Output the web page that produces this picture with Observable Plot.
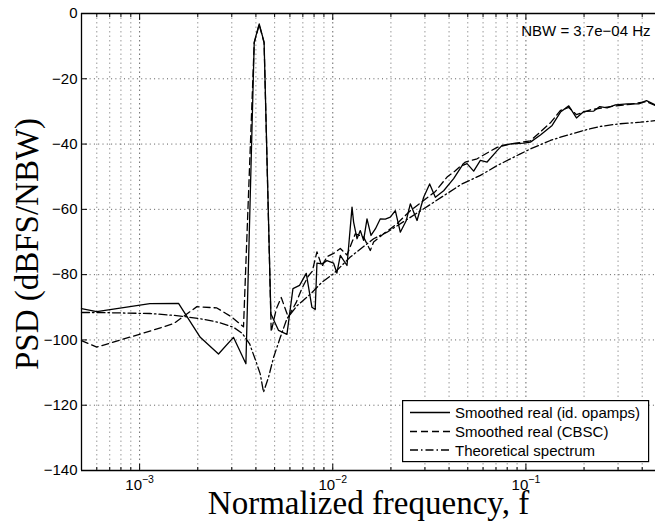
<!DOCTYPE html>
<html>
<head>
<meta charset="utf-8">
<script src="https://cdn.jsdelivr.net/npm/d3@7"></script>
<script src="https://cdn.jsdelivr.net/npm/@observablehq/plot@0.6"></script>
<style>
  html, body { margin: 0; padding: 0; background: #fff; overflow: hidden; }
  #wrap { position: relative; width: 655px; height: 522px; }
  #legend { position: absolute; left: 402px; top: 400px; }
</style>
</head>
<body>
<div id="wrap"><div id="chart"></div><div id="legend"></div></div>
<script>
// ---------- data ----------
const freqSolid = [5.0e-4, 6.0e-4, 1.13e-3, 1.59e-3, 2.06e-3, 2.56e-3, 3.06e-3, 3.55e-3, 3.92e-3, 4.16e-3, 4.41e-3,
  4.78e-3, 5.24e-3, 5.79e-3, 6.22e-3, 6.73e-3, 7.29e-3, 7.80e-3, 8.11e-3, 8.28e-3, 8.79e-3, 9.33e-3,
  1.01e-2, 1.05e-2, 1.094e-2, 1.185e-2, 1.258e-2, 1.282e-2, 1.335e-2, 1.388e-2, 1.444e-2, 1.504e-2, 1.577e-2,
  1.661e-2, 1.763e-2, 1.871e-2, 1.986e-2, 2.108e-2, 2.237e-2, 2.403e-2, 2.521e-2, 2.731e-2, 2.955e-2, 3.174e-2,
  3.397e-2, 3.751e-2, 4.225e-2, 4.671e-2, 4.958e-2, 5.365e-2, 5.810e-2, 6.295e-2, 7.093e-2, 7.528e-2, 8.483e-2,
  9.741e-2, 0.1055, 0.1189, 0.1367, 0.1510, 0.1667, 0.1827, 0.1993, 0.2246, 0.2412, 0.2634, 0.2909, 0.3345,
  0.3842, 0.4210, 0.4688];
const psdSolid = [-90.4, -91.3, -88.9, -88.8, -99.2, -104.3, -99.2, -107.3, -8.8, -3.2, -8.8,
  -92.0, -97.1, -98.3, -84.3, -83.3, -79.6, -90.0, -90.7, -76.5, -76.7, -75.7,
  -76.5, -79.5, -74.1, -77.2, -59.3, -63.9, -69.0, -66.5, -69.5, -62.9, -68.0,
  -66.0, -62.9, -63.0, -62.4, -60.4, -67.0, -63.4, -58.3, -63.4, -56.3, -52.2,
  -56.3, -54.3, -50.6, -46.6, -46.0, -48.3, -45.0, -45.5, -42.0, -40.4, -39.9,
  -39.7, -39.4, -37.2, -34.3, -30.2, -28.3, -32.0, -30.0, -29.9, -28.5, -28.9, -28.0, -27.7,
  -27.7, -26.7, -28.0];

const freqCBSC = [5.0e-4, 6.0e-4, 1.13e-3, 1.50e-3, 1.98e-3, 2.51e-3, 3.0e-3, 3.45e-3, 3.92e-3, 4.16e-3, 4.41e-3,
  4.80e-3, 5.10e-3, 5.41e-3, 5.88e-3, 6.47e-3, 6.95e-3, 7.46e-3, 7.83e-3, 8.28e-3, 8.79e-3, 9.33e-3,
  1.01e-2, 1.094e-2, 1.185e-2, 1.258e-2, 1.308e-2, 1.444e-2, 1.564e-2, 1.627e-2, 1.833e-2, 2.15e-2, 2.52e-2,
  2.955e-2, 3.40e-2, 3.906e-2, 4.225e-2, 4.859e-2, 5.587e-2, 7.09e-2, 8.31e-2, 0.1055, 0.1339, 0.151, 0.1667,
  0.1827, 0.2158, 0.2741, 0.3479, 0.421, 0.4688];
const psdCBSC = [-100.2, -102.2, -97.3, -95.0, -89.8, -90.2, -93.0, -96.0, -9.0, -3.4, -9.0,
  -97.5, -90.5, -87.0, -93.0, -88.5, -84.0, -80.5, -79.0, -73.0, -77.5, -74.5,
  -73.5, -72.0, -74.0, -70.0, -67.5, -68.5, -72.6, -70.0, -67.5, -64.4, -60.4,
  -57.3, -54.5, -50.1, -48.6, -45.5, -44.5, -41.0, -40.0, -39.0, -33.5, -29.7, -28.8,
  -31.0, -29.5, -28.5, -27.8, -27.0, -28.2];

const freqTheory = [5.0e-4, 6.0e-4, 1.13e-3, 1.59e-3, 2.06e-3, 2.56e-3, 3.06e-3, 3.40e-3, 3.71e-3, 3.97e-3, 4.21e-3,
  4.38e-3, 4.65e-3, 4.94e-3, 5.35e-3, 5.79e-3, 6.53e-3, 6.93e-3, 7.65e-3, 8.79e-3, 1.01e-2, 1.232e-2, 1.627e-2,
  1.91e-2, 3.016e-2, 3.827e-2, 4.671e-2, 5.81e-2, 7.09e-2, 9.36e-2, 0.1055, 0.1339, 0.151, 0.1993, 0.2432,
  0.3026, 0.392, 0.4688];
const psdTheory = [-91.6, -91.6, -91.9, -92.6, -93.5, -94.6, -96.1, -98.0, -101.2, -106.0, -110.4,
  -116.0, -111.4, -105.3, -99.2, -93.5, -89.5, -88.2, -86.0, -82.3, -79.7, -74.6, -69.0,
  -67.0, -59.5, -55.5, -52.2, -49.6, -46.6, -43.0, -41.5, -38.9, -37.9, -35.8, -34.6,
  -33.8, -33.3, -32.8];

const seriesNames = ["Smoothed real (id. opamps)", "Smoothed real (CBSC)", "Theoretical spectrum"];
const xLabel = "Normalized frequency, f";
const yLabel = "PSD (dBFS/NBW)";
const nbwLabel = "NBW = 3.7e\u221204 Hz";

const xDomain = [5e-4, 0.4688];
const yDomain = [-140, 0];
const yTicks = [-140, -120, -100, -80, -60, -40, -20, 0];
const yGrid = [-120, -100, -80, -60, -40, -20];
const xMajorTicks = [1e-3, 1e-2, 1e-1];
const xMajorExponents = ["\u22123", "\u22122", "\u22121"];
const xMinorTicks = [6e-4, 7e-4, 8e-4, 9e-4,
  2e-3, 3e-3, 4e-3, 5e-3, 6e-3, 7e-3, 8e-3, 9e-3,
  2e-2, 3e-2, 4e-2, 5e-2, 6e-2, 7e-2, 8e-2, 9e-2,
  2e-1, 3e-1, 4e-1];

// ---------- styles ----------
const dashes = [null, "7,4", "8,3,1.5,3"];
const lineW = 1.3;

const rows = (f, p) => f.map((x, i) => ({f: x, p: p[i]}));
const solid = rows(freqSolid, psdSolid);
const cbsc = rows(freqCBSC, psdCBSC);
const theory = rows(freqTheory, psdTheory);

const serif = "'Liberation Serif', 'Times New Roman', serif";
const noText = () => "";

const chart = Plot.plot({
  width: 655,
  height: 522,
  marginLeft: 81,
  marginRight: 0,
  marginTop: 13,
  marginBottom: 52,
  style: {fontFamily: "'Liberation Sans', Arial, sans-serif", fontSize: "15px", background: "#fff", color: "#000", overflow: "visible"},
  x: {type: "log", domain: xDomain},
  y: {domain: yDomain},
  marks: [
    Plot.ruleX(xMinorTicks, {stroke: "#000", strokeOpacity: 0.4, strokeDasharray: "1.5,3"}),
    Plot.ruleX(xMajorTicks, {stroke: "#000", strokeOpacity: 0.6, strokeDasharray: "1.5,3"}),
    Plot.ruleY(yGrid, {stroke: "#000", strokeOpacity: 0.65, strokeDasharray: "1,3.3"}),
    Plot.line(theory, {x: "f", y: "p", stroke: "#000", strokeWidth: lineW, strokeDasharray: dashes[2]}),
    Plot.line(cbsc, {x: "f", y: "p", stroke: "#000", strokeWidth: lineW, strokeDasharray: dashes[1]}),
    Plot.line(solid, {x: "f", y: "p", stroke: "#000", strokeWidth: lineW}),
    Plot.ruleY([yDomain[1], yDomain[0]], {stroke: "#000", strokeWidth: 1.3}),
    Plot.ruleX([xDomain[0]], {stroke: "#000", strokeWidth: 1.3}),
    Plot.axisY({ticks: yTicks, tickSize: 0, tickPadding: 4, label: null}),
    Plot.axisY({ticks: yTicks, tickSize: -6, tickFormat: noText, label: null}),
    Plot.axisX({ticks: xMajorTicks, tickSize: -6, tickFormat: noText, label: null}),
    Plot.axisX({ticks: xMinorTicks, tickSize: -3, tickFormat: noText, label: null}),
    Plot.axisX({anchor: "top", ticks: xMajorTicks, tickSize: -6, tickFormat: noText, label: null}),
    Plot.axisX({anchor: "top", ticks: xMinorTicks, tickSize: -3, tickFormat: noText, label: null}),
    Plot.text(xMajorTicks, {x: d => d, frameAnchor: "bottom", dy: 19, lineAnchor: "bottom", textAnchor: "middle",
      text: (d, i) => "10^" + xMajorExponents[i], fontSize: 15}),
    Plot.text([nbwLabel], {frameAnchor: "top-right", dx: -5, dy: 22, lineAnchor: "bottom", textAnchor: "end", fontSize: 15}),
    Plot.text([xLabel], {frameAnchor: "bottom", dy: 43, lineAnchor: "bottom", textAnchor: "middle", fontFamily: serif, fontSize: 33}),
    Plot.text([yLabel], {frameAnchor: "left", dx: -44, dy: 2, rotate: -90, lineAnchor: "bottom", textAnchor: "middle", fontFamily: serif, fontSize: 33})
  ]
});
document.getElementById("chart").appendChild(chart);

// superscript exponents on x tick labels
d3.select(chart).selectAll("text").each(function() {
  const s = this.textContent;
  if (!s.startsWith("10^")) return;
  const parts = s.split("^");
  const t = d3.select(this);
  t.selectAll("*").remove();
  t.text(null);
  t.append("tspan").text(parts[0]);
  t.append("tspan").attr("dy", "-7").attr("font-size", "10.5").text(parts[1]);
});

// ---------- legend (inside the axes, lower right) ----------
const lg = d3.select("#legend").append("svg").attr("width", 248).attr("height", 63);
lg.append("rect").attr("x", 0.6).attr("y", 0.6).attr("width", 246).attr("height", 61)
  .attr("fill", "#fff").attr("stroke", "#000").attr("stroke-width", 1.2);
const rowY = [12.5, 31.5, 50];
seriesNames.forEach((name, i) => {
  lg.append("line").attr("x1", 8).attr("x2", 48).attr("y1", rowY[i]).attr("y2", rowY[i])
    .attr("stroke", "#000").attr("stroke-width", lineW)
    .attr("stroke-dasharray", dashes[i]);
  lg.append("text").attr("x", 53).attr("y", rowY[i] + 5.5)
    .attr("font-family", "'Liberation Sans', Arial, sans-serif").attr("font-size", 15)
    .attr("fill", "#000").text(name);
});
</script>
</body>
</html>
